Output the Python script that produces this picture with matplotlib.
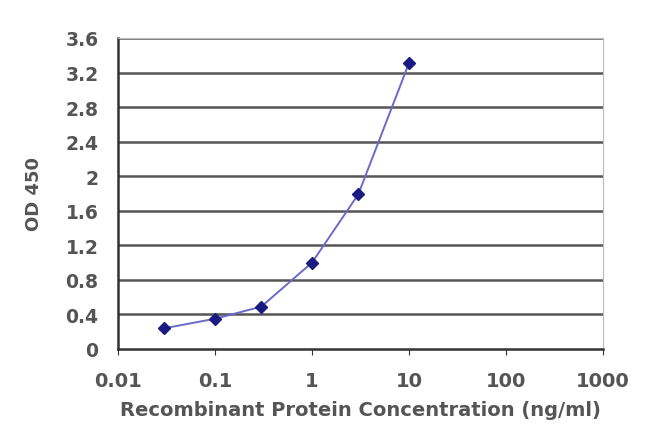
import numpy as np
import matplotlib
matplotlib.use("Agg")
import matplotlib.pyplot as plt

conc = [0.03, 0.1, 0.3, 1, 3, 10]
od450 = [0.24, 0.35, 0.49, 1.0, 1.79, 3.31]
x_ticks = [0.01, 0.1, 1, 10, 100, 1000]
x_labels = ['0.01', '0.1', '1', '10', '100', '1000']
y_ticks = [0, 0.4, 0.8, 1.2, 1.6, 2, 2.4, 2.8, 3.2, 3.6]
y_labels = ['0', '0.4', '0.8', '1.2', '1.6', '2', '2.4', '2.8', '3.2', '3.6']

plt.rcParams['font.family'] = ['DejaVu Sans']
plt.rcParams['font.weight'] = 'bold'
plt.rcParams['axes.labelweight'] = 'bold'
txt = '#555555'

fig = plt.figure(figsize=(6.5, 4.39), dpi=100)
ax = fig.add_axes([118 / 650, 1 - 350 / 439, (603 - 118) / 650, (350 - 39) / 439])

for yt in y_ticks[1:]:
    ax.axhline(yt, color='#555555', linewidth=1.8, zorder=1)

ax.plot(conc, od450, color='#6a6ac8', linewidth=1.4, zorder=2)
ax.plot(conc, od450, linestyle='none', marker='D', markersize=6, color='#1a1a80', zorder=3)

ax.set_xscale('log')
ax.set_xlim(0.01, 1000)
ax.set_ylim(0, 3.6)
ax.set_xticks(x_ticks)
ax.set_xticklabels(x_labels)
ax.minorticks_off()
ax.set_yticks(y_ticks)
ax.set_yticklabels(y_labels)

ax.spines['left'].set_color('#333333')
ax.spines['bottom'].set_color('#333333')
ax.spines['left'].set_linewidth(1.8)
ax.spines['bottom'].set_linewidth(1.8)
ax.spines['right'].set_color('#bbbbbb')
ax.spines['top'].set_color('#bbbbbb')
ax.tick_params(axis='x', direction='out', length=4, color='#333333', labelsize=14, labelcolor=txt, pad=12)
ax.tick_params(axis='y', length=0, labelsize=13.5, labelcolor=txt, pad=14)

ax.set_xlabel('Recombinant Protein Concentration (ng/ml)', fontsize=14, color=txt, labelpad=7)
ax.set_ylabel('OD 450', fontsize=13, color=txt, labelpad=16)

fig.savefig('out.png', dpi=100)
